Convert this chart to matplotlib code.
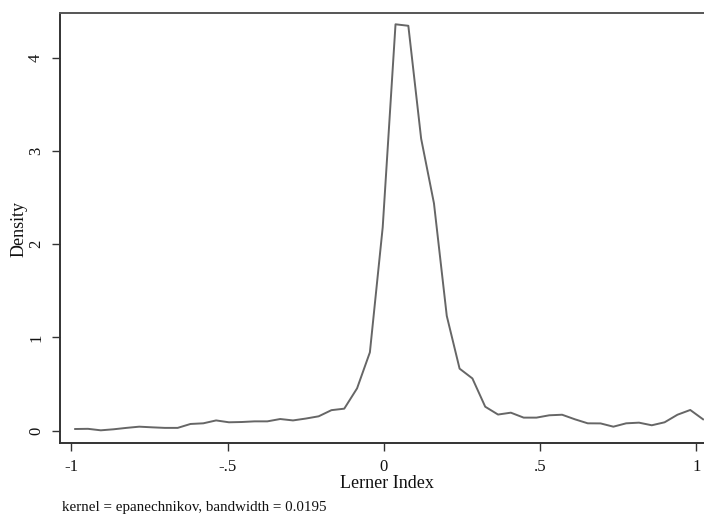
import numpy as np
import matplotlib
matplotlib.use("Agg")
import matplotlib.pyplot as plt

# density estimate at 50 evenly spaced points (Stata kdensity default n=50)
x_start = -0.988
x_end = 1.021
density = [0.018, 0.020, 0.004, 0.015, 0.030, 0.043, 0.036, 0.030, 0.030, 0.072,
           0.079, 0.110, 0.090, 0.093, 0.100, 0.100, 0.125, 0.110, 0.130, 0.154,
           0.220, 0.236, 0.454, 0.840, 2.180, 4.356, 4.340, 3.130, 2.437, 1.230,
           0.665, 0.560, 0.257, 0.173, 0.193, 0.140, 0.140, 0.165, 0.171, 0.122,
           0.079, 0.078, 0.043, 0.079, 0.086, 0.058, 0.090, 0.171, 0.222, 0.122]
lerner = np.linspace(x_start, x_end, len(density))

xticks = [-1, -0.5, 0, 0.5, 1]
xticklabels = ["-1", "-.5", "0", ".5", "1"]
yticks = [0, 1, 2, 3, 4]

plt.rcParams['font.family'] = ['Liberation Serif', 'DejaVu Serif']

W, H = 704, 515
fig = plt.figure(figsize=(W / 100, H / 100), dpi=100)
left, right, top, bottom = 60, 709, 13, 443
ax = fig.add_axes([left / W, 1 - bottom / H, (right - left) / W, (bottom - top) / H])

ax.plot(lerner, density, color="#666666", lw=1.4)

ax.set_xlim(-1.0365, 1.04)
ax.set_ylim(-0.132, 4.477)
ax.set_xticks(xticks)
ax.set_xticklabels(xticklabels)
ax.set_yticks(yticks)
ax.set_yticklabels([str(v) for v in yticks], rotation=90, va="center")

for s in ax.spines.values():
    s.set_color("#333333")
    s.set_linewidth(1.4)
ax.spines["top"].set_color("#555555")
ax.tick_params(direction="out", length=5.5, width=1.0, color="#333333",
               labelsize=12, labelcolor="#111111")
ax.tick_params(axis="x", pad=6)
ax.tick_params(axis="y", pad=6)

fig.text(19 / W, 1 - 229 / H, "Density", rotation=90, ha="center", va="center",
         fontsize=13, color="#111111")
fig.text(387 / W, 1 - 484 / H, "Lerner Index", ha="center", va="center",
         fontsize=13, color="#111111")
fig.text(62 / W, 1 - 507 / H, "kernel = epanechnikov, bandwidth = 0.0195",
         ha="left", va="center", fontsize=10.8, color="#111111")

fig.savefig("out.png", dpi=100)
